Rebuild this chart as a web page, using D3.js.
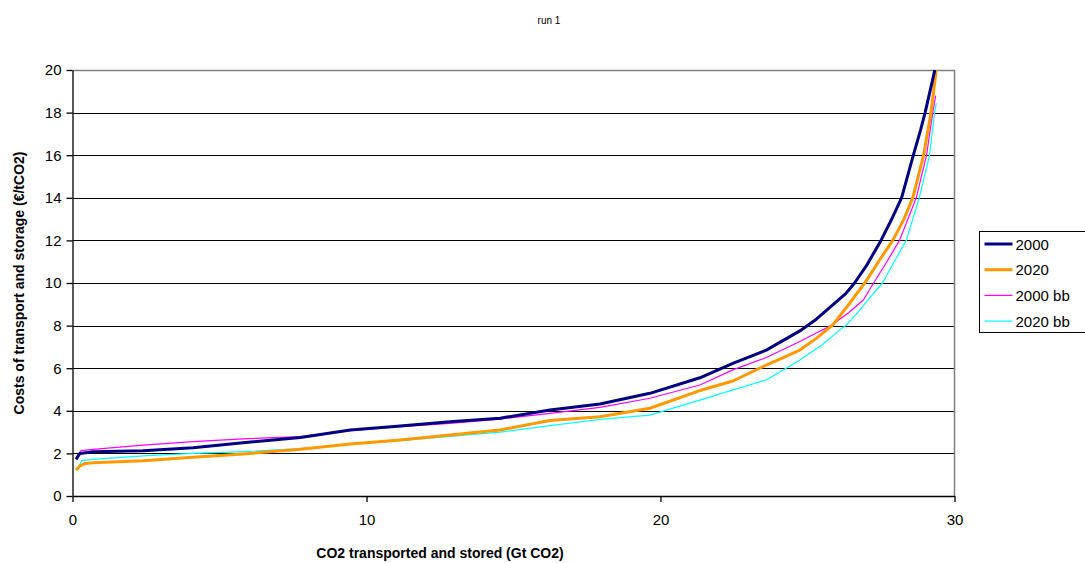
<!DOCTYPE html>
<html>
<head>
<meta charset="utf-8">
<script src="https://cdn.jsdelivr.net/npm/d3@7"></script>
<style>
  body { margin: 0; background: #fff; }
  svg { font-family: "Liberation Sans", Arial, sans-serif; }
</style>
</head>
<body>
<svg id="chart" width="1085" height="563"></svg>
<script>
// cost curves: [Gt CO2, €/tCO2]
const s2000 = [
  [0.12, 1.72], [0.25, 2.0], [0.7, 2.08], [2.4, 2.13], [4.1, 2.27], [5.8, 2.5],
  [7.75, 2.75], [9.45, 3.1], [11.15, 3.29], [12.84, 3.49], [14.54, 3.65],
  [16.24, 4.04], [17.94, 4.32], [19.64, 4.82], [21.34, 5.55], [22.46, 6.23],
  [23.6, 6.85], [24.74, 7.75], [25.3, 8.3], [25.86, 8.97], [26.3, 9.5],
  [26.6, 10.0], [27.0, 10.8], [27.5, 12.0], [27.9, 13.1], [28.2, 14.0],
  [28.6, 16.0], [28.85, 17.2], [29.0, 18.0], [29.25, 19.5], [29.33, 20.0]
];
const s2020 = [
  [0.12, 1.22], [0.25, 1.41], [0.43, 1.53], [0.7, 1.56], [2.4, 1.66], [4.1, 1.82],
  [5.8, 1.97], [7.75, 2.2], [9.45, 2.44], [11.15, 2.63], [12.84, 2.86],
  [14.54, 3.1], [16.24, 3.54], [17.94, 3.72], [19.64, 4.12], [21.34, 4.95],
  [22.46, 5.4], [23.6, 6.15], [24.74, 6.85], [25.3, 7.4], [25.86, 8.03],
  [26.44, 9.06], [27.0, 10.1], [27.45, 11.08], [27.9, 12.0], [28.28, 13.0],
  [28.58, 14.0], [28.95, 16.0], [29.2, 18.0], [29.38, 20.0]
];
const s2000bb = [
  [0.12, 1.77], [0.29, 2.13], [0.7, 2.19], [2.4, 2.39], [4.1, 2.55], [5.8, 2.68],
  [7.75, 2.79], [9.45, 3.07], [11.15, 3.25], [12.84, 3.41], [14.54, 3.61],
  [16.24, 3.88], [17.94, 4.16], [19.64, 4.59], [21.34, 5.21], [22.46, 5.92],
  [23.6, 6.5], [24.74, 7.25], [25.3, 7.65], [25.8, 8.0], [26.4, 8.6],
  [26.9, 9.2], [27.25, 10.0], [27.7, 11.0], [28.13, 12.0], [28.7, 14.0],
  [29.05, 16.0], [29.26, 18.0], [29.36, 18.8]
];
const s2020bb = [
  [0.12, 1.19], [0.32, 1.66], [0.7, 1.72], [2.4, 1.88], [4.1, 2.0], [5.8, 2.08],
  [7.75, 2.22], [9.45, 2.43], [11.15, 2.6], [12.84, 2.8], [14.54, 3.0],
  [16.24, 3.3], [17.94, 3.6], [19.64, 3.8], [21.34, 4.5], [22.46, 4.98],
  [23.6, 5.45], [24.74, 6.38], [25.5, 7.1], [26.1, 7.8], [26.3, 8.0],
  [26.7, 8.6], [27.05, 9.2], [27.55, 10.0], [27.95, 11.0], [28.36, 12.0],
  [28.8, 14.0], [29.15, 16.0], [29.32, 18.0], [29.38, 18.45]
];

const seriesNames = ["2000", "2020", "2000 bb", "2020 bb"];
const seriesData = [s2000, s2020, s2000bb, s2020bb];
const seriesColors = ["#000080", "#FF9900", "#FF00FF", "#00FFFF"];
const seriesWidths = [3, 3, 1.2, 1.2];

const xTicks = [0, 10, 20, 30];
const yTicks = [0, 2, 4, 6, 8, 10, 12, 14, 16, 18, 20];

const plot = { left: 72.5, right: 954.5, top: 70, bottom: 496 };

const svg = d3.select("#chart");

const x = d3.scaleLinear().domain([0, 30]).range([plot.left, plot.right]);
const y = d3.scaleLinear().domain([0, 20]).range([plot.bottom, plot.top]);

// title
svg.append("text")
  .attr("x", 549).attr("y", 24)
  .attr("text-anchor", "middle")
  .attr("font-size", 10)
  .text("run 1");

// gridlines
svg.append("g")
  .selectAll("line")
  .data(yTicks.filter(d => d > 0 && d < 20))
  .join("line")
  .attr("x1", plot.left).attr("x2", plot.right)
  .attr("y1", d => Math.round(y(d)) + 0.5).attr("y2", d => Math.round(y(d)) + 0.5)
  .attr("stroke", "#000").attr("stroke-width", 1);

// plot border (grey top and right)
svg.append("path")
  .attr("d", `M${plot.left},${plot.top + 0.5}H${plot.right}V${plot.bottom}`)
  .attr("fill", "none").attr("stroke", "#808080").attr("stroke-width", 1.5);

// series
const line = d3.line().x(d => x(d[0])).y(d => y(d[1]));
const order = [3, 2, 1, 0];
svg.append("g")
  .selectAll("path")
  .data(order)
  .join("path")
  .attr("d", i => line(seriesData[i]))
  .attr("fill", "none")
  .attr("stroke", i => seriesColors[i])
  .attr("stroke-width", i => seriesWidths[i])
  .attr("stroke-linejoin", "round");

// axes
const yAxis = d3.axisLeft(y).tickValues(yTicks).tickSize(6).tickSizeOuter(0).tickPadding(5);
const xAxis = d3.axisBottom(x).tickValues(xTicks).tickSize(6).tickSizeOuter(0).tickPadding(12);

const gy = svg.append("g")
  .attr("transform", `translate(${plot.left},0)`)
  .call(yAxis);
const gx = svg.append("g")
  .attr("transform", `translate(0,${plot.bottom})`)
  .call(xAxis);

[gx, gy].forEach(g => {
  g.selectAll("text").attr("font-size", 15).attr("fill", "#000")
    .attr("font-family", "Liberation Sans, Arial, sans-serif");
  g.selectAll("line, path").attr("stroke", "#000").attr("stroke-width", 1.3);
});

// axis titles
svg.append("text")
  .attr("x", 440).attr("y", 558)
  .attr("text-anchor", "middle")
  .attr("font-size", 14).attr("font-weight", "bold")
  .text("CO2 transported and stored (Gt CO2)");

svg.append("text")
  .attr("transform", "translate(24,283) rotate(-90)")
  .attr("text-anchor", "middle")
  .attr("font-size", 14).attr("font-weight", "bold")
  .text("Costs of transport and storage (€/tCO2)");

// legend
const legend = svg.append("g").attr("transform", "translate(979.5,231.5)");
legend.append("rect")
  .attr("width", 120).attr("height", 101)
  .attr("fill", "#fff").attr("stroke", "#000").attr("stroke-width", 1);

const items = legend.selectAll("g.item")
  .data(seriesNames)
  .join("g")
  .attr("class", "item")
  .attr("transform", (d, i) => `translate(0,${12.5 + i * 25.7})`);

items.append("line")
  .attr("x1", 5).attr("x2", 33)
  .attr("stroke", (d, i) => seriesColors[i])
  .attr("stroke-width", (d, i) => seriesWidths[i]);

items.append("text")
  .attr("x", 36).attr("y", 5.5)
  .attr("font-size", 15)
  .text(d => d);
</script>
</body>
</html>
